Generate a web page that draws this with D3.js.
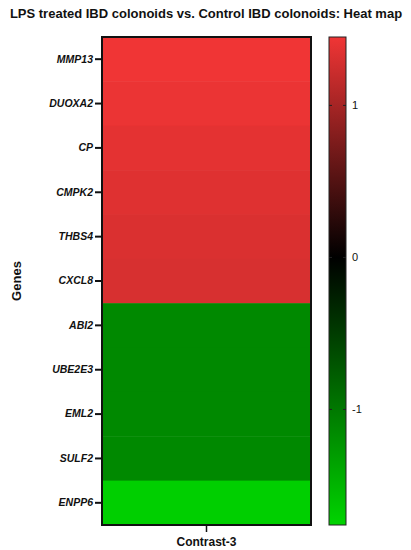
<!DOCTYPE html>
<html>
<head>
<meta charset="utf-8">
<script src="https://cdn.jsdelivr.net/npm/d3@7"></script>
<style>
  body { margin: 0; background: #fff; }
  text { font-family: Arial, "Liberation Sans", sans-serif; fill: #111; }
</style>
</head>
<body>
<div id="chart"></div>
<script>
// genes (rows) and their contrast values
var genes = ["MMP13", "DUOXA2", "CP", "CMPK2", "THBS4", "CXCL8",
             "ABI2", "UBE2E3", "EML2", "SULF2", "ENPP6"];
var columns = ["Contrast-3"];
var values = [1.45, 1.42, 1.38, 1.35, 1.32, 1.30,
              -1.14, -1.14, -1.14, -1.14, -1.72];
var legendTicks = [1, 0, -1];
var legendMin = -1.76, legendMax = 1.45;

var svgWidth = 411, svgHeight = 550;

var svg = d3.select("#chart").append("svg")
  .attr("width", svgWidth)
  .attr("height", svgHeight);

// plot area (window.top is reserved, so use other names)
var plotLeft = 102, plotRight = 311, plotTop = 37, plotBottom = 525;

var x = d3.scaleBand().domain(columns).range([plotLeft, plotRight]);
var y = d3.scaleBand().domain(genes).range([plotTop, plotBottom]);

var color = d3.scaleLinear()
  .domain([legendMin, 0, legendMax])
  .range(["#00d400", "#000000", "#f03535"]);

// cells
svg.append("g").selectAll("rect")
  .data(genes)
  .enter()
  .append("rect")
  .attr("x", x(columns[0]))
  .attr("y", d => y(d))
  .attr("width", x.bandwidth())
  .attr("height", y.bandwidth() + 0.5)
  .attr("fill", (d, i) => color(values[i]));

// frame
svg.append("rect")
  .attr("x", plotLeft).attr("y", plotTop)
  .attr("width", plotRight - plotLeft).attr("height", plotBottom - plotTop)
  .attr("fill", "none")
  .attr("stroke", "#111")
  .attr("stroke-width", 2);

// y axis
var yAxis = svg.append("g")
  .attr("transform", `translate(${plotLeft - 1},0)`)
  .call(d3.axisLeft(y).tickSize(6).tickPadding(2));
yAxis.select(".domain").remove();
yAxis.selectAll("line").attr("stroke", "#111").attr("stroke-width", 2);
yAxis.selectAll("text")
  .style("font-size", "10.5px")
  .style("font-weight", "bold")
  .style("font-style", "italic")
  .attr("fill", "#111");

// x axis
var xAxis = svg.append("g")
  .attr("transform", `translate(0,${plotBottom + 1})`)
  .call(d3.axisBottom(x).tickSize(6).tickPadding(5));
xAxis.select(".domain").remove();
xAxis.selectAll("line").attr("stroke", "#111").attr("stroke-width", 1.5);
xAxis.selectAll("text")
  .style("font-size", "12px")
  .style("font-weight", "bold")
  .attr("fill", "#111");

// title
svg.append("text")
  .attr("x", 206)
  .attr("y", 18)
  .attr("text-anchor", "middle")
  .style("font-size", "13px")
  .style("font-weight", "bold")
  .text("LPS treated IBD colonoids vs. Control IBD colonoids: Heat map");

// y label
svg.append("text")
  .attr("transform", `translate(21, ${(plotTop + plotBottom) / 2}) rotate(-90)`)
  .attr("text-anchor", "middle")
  .style("font-size", "13px")
  .style("font-weight", "bold")
  .text("Genes");

// colour legend
var lx = 329, lw = 17;
var ly = d3.scaleLinear().domain([legendMin, legendMax]).range([plotBottom, plotTop]);

var defs = svg.append("defs");
var grad = defs.append("linearGradient")
  .attr("id", "legendGrad")
  .attr("x1", 0).attr("y1", 1).attr("x2", 0).attr("y2", 0);
grad.selectAll("stop")
  .data([legendMin, 0, legendMax])
  .enter()
  .append("stop")
  .attr("offset", d => (d - legendMin) / (legendMax - legendMin))
  .attr("stop-color", d => color(d));

svg.append("rect")
  .attr("x", lx).attr("y", plotTop)
  .attr("width", lw).attr("height", plotBottom - plotTop)
  .attr("fill", "url(#legendGrad)")
  .attr("stroke", "#222")
  .attr("stroke-width", 1);

var lg = svg.append("g").selectAll("g")
  .data(legendTicks)
  .enter()
  .append("g");
lg.append("line")
  .attr("x1", lx).attr("x2", lx + 3)
  .attr("y1", d => ly(d)).attr("y2", d => ly(d))
  .attr("stroke", "#222");
lg.append("line")
  .attr("x1", lx + lw - 3).attr("x2", lx + lw)
  .attr("y1", d => ly(d)).attr("y2", d => ly(d))
  .attr("stroke", "#222");
lg.append("text")
  .attr("x", lx + lw + 6)
  .attr("y", d => ly(d) + 4)
  .style("font-size", "11px")
  .attr("fill", "#111")
  .text(d => d);
</script>
</body>
</html>
